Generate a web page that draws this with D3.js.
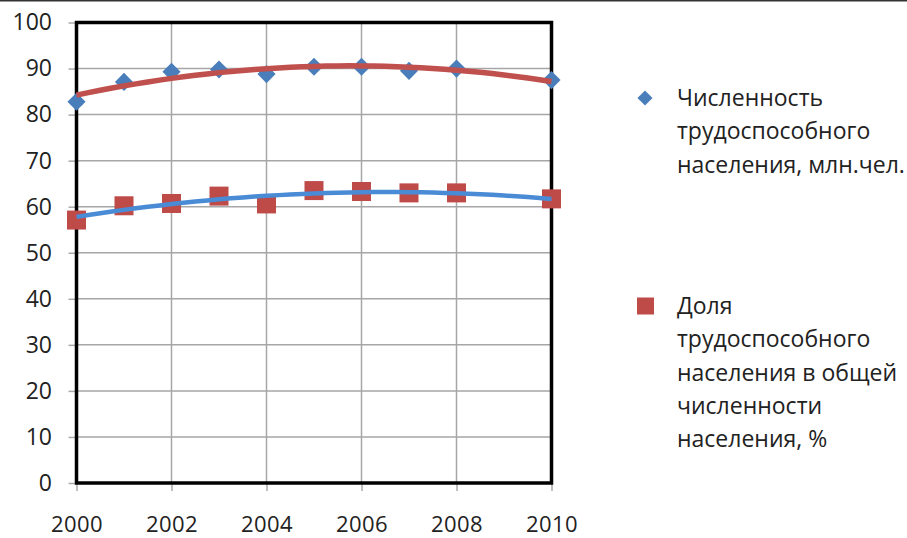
<!DOCTYPE html>
<html>
<head>
<meta charset="utf-8">
<script src="https://cdn.jsdelivr.net/npm/d3@7"></script>
<style>
  html, body { margin: 0; padding: 0; background: #fff; }
  svg { display: block; }
  text { font-family: "Open Sans", "Noto Sans", sans-serif; fill: #222; }
</style>
</head>
<body>
<svg id="chart" width="907" height="538"></svg>
<script>
// Years with observations (no 2009 value)
const years = [2000, 2001, 2002, 2003, 2004, 2005, 2006, 2007, 2008, 2010];
// Working-age population, million people
const workforce = [82.8, 87.1, 89.3, 89.8, 88.8, 90.4, 90.4, 89.5, 90.0, 87.5];
// Share of working-age population in total population, %
const workforceShare = [57.1, 60.2, 60.7, 62.3, 60.6, 63.5, 63.3, 63.0, 63.0, 61.7];

const xTicks = [2000, 2002, 2004, 2006, 2008, 2010];
const yTicks = [0, 10, 20, 30, 40, 50, 60, 70, 80, 90, 100];

const legendLabels = [
  ["Численность", "трудоспособного", "населения, млн.чел."],
  ["Доля", "трудоспособного", "населения в общей", "численности", "населения, %"]
];

const blue = "#4a7ebb";
const red = "#be4b48";
const trendRed = "#c0504d";
const trendBlue = "#4a8bd6";

const svg = d3.select("#chart");

// thin frame line across the top
svg.append("line")
  .attr("x1", 0).attr("x2", 907).attr("y1", 0.75).attr("y2", 0.75)
  .attr("stroke", "#333").attr("stroke-width", 1.5);

const plot = { left: 76.5, right: 551.5, top: 22.5, bottom: 483 };

const x = d3.scaleLinear().domain([2000, 2010]).range([plot.left, plot.right]);
const y = d3.scaleLinear().domain([0, 100]).range([plot.bottom, plot.top]);

// gridlines
const grid = svg.append("g");
grid.selectAll(".gy").data(yTicks.filter(v => v > 0 && v < 100)).join("line")
  .attr("x1", plot.left).attr("x2", plot.right)
  .attr("y1", d => y(d)).attr("y2", d => y(d))
  .attr("stroke", "#a6a6a6").attr("stroke-width", 1.5);
grid.selectAll(".gx").data(xTicks.filter(v => v > 2000 && v < 2010)).join("line")
  .attr("x1", d => x(d)).attr("x2", d => x(d))
  .attr("y1", plot.top).attr("y2", plot.bottom)
  .attr("stroke", "#a6a6a6").attr("stroke-width", 1.5);

// axes
const yAxis = svg.append("g")
  .attr("transform", `translate(${plot.left},0)`)
  .call(d3.axisLeft(y).tickValues(yTicks).tickSize(8).tickPadding(16.5).tickFormat(d3.format("d")));
const xAxis = svg.append("g")
  .attr("transform", `translate(0,${plot.bottom})`)
  .call(d3.axisBottom(x).tickValues(xTicks).tickSize(8).tickPadding(25).tickFormat(d3.format("d")));
[yAxis, xAxis].forEach(a => {
  a.select(".domain").remove();
  a.selectAll(".tick line").attr("stroke", "#aaa").attr("stroke-width", 1.5);
  a.selectAll(".tick text").attr("font-size", 23).attr("fill", "#222")
    .attr("font-family", "'Open Sans', sans-serif");
});
xAxis.selectAll(".tick text").attr("font-size", 22).style("letter-spacing", "0.4px");

// plot border
svg.append("rect")
  .attr("x", plot.left).attr("y", plot.top)
  .attr("width", plot.right - plot.left).attr("height", plot.bottom - plot.top)
  .attr("fill", "none").attr("stroke", "#000").attr("stroke-width", 3.5);

// least-squares polynomial trend
function polyFit(xs, ys, order) {
  const n = order + 1;
  const x0 = 2005;
  const A = Array.from({ length: n }, () => new Array(n + 1).fill(0));
  xs.forEach((xv, k) => {
    const t = xv - x0;
    for (let i = 0; i < n; i++) {
      for (let j = 0; j < n; j++) A[i][j] += Math.pow(t, i + j);
      A[i][n] += ys[k] * Math.pow(t, i);
    }
  });
  for (let i = 0; i < n; i++) {
    let p = i;
    for (let r = i + 1; r < n; r++) if (Math.abs(A[r][i]) > Math.abs(A[p][i])) p = r;
    [A[i], A[p]] = [A[p], A[i]];
    for (let r = 0; r < n; r++) {
      if (r === i) continue;
      const f = A[r][i] / A[i][i];
      for (let c = i; c <= n; c++) A[r][c] -= f * A[i][c];
    }
  }
  const coef = A.map((row, i) => row[n] / row[i]);
  return xv => coef.reduce((s, c, i) => s + c * Math.pow(xv - x0, i), 0);
}

const steps = d3.range(2000, 2010.001, 0.25);
const line = d3.line().x(d => x(d[0])).y(d => y(d[1]));

const fitWork = polyFit(years, workforce, 2);
const fitShare = polyFit(years, workforceShare, 2);

// markers
const diamond = d3.symbol().type(d3.symbolDiamond2).size(210);
svg.append("g").selectAll("path").data(years).join("path")
  .attr("d", diamond)
  .attr("transform", (d, i) => `translate(${x(d)},${y(workforce[i])})`)
  .attr("fill", blue);

svg.append("path")
  .attr("d", line(steps.map(t => [t, fitWork(t)])))
  .attr("fill", "none").attr("stroke", trendRed).attr("stroke-width", 5.5)
  .attr("stroke-linejoin", "round");

svg.append("g").selectAll("rect").data(years).join("rect")
  .attr("x", d => x(d) - 9.5).attr("y", (d, i) => y(workforceShare[i]) - 9.5)
  .attr("width", 19).attr("height", 19)
  .attr("fill", red);

svg.append("path")
  .attr("d", line(steps.map(t => [t, fitShare(t)])))
  .attr("fill", "none").attr("stroke", trendBlue).attr("stroke-width", 4.5)
  .attr("stroke-linejoin", "round");

// legend
const legend = svg.append("g");
const legendItems = [
  { top: 98, lines: legendLabels[0], shape: "diamond" },
  { top: 306, lines: legendLabels[1], shape: "square" }
];
legendItems.forEach(item => {
  if (item.shape === "diamond") {
    legend.append("path")
      .attr("d", d3.symbol().type(d3.symbolDiamond2).size(145)())
      .attr("transform", `translate(645,${item.top})`).attr("fill", blue);
  } else {
    legend.append("rect")
      .attr("x", 637).attr("y", item.top - 8.5).attr("width", 17).attr("height", 17)
      .attr("fill", red);
  }
  const t = legend.append("text").attr("font-size", 23).attr("fill", "#222");
  item.lines.forEach((s, i) => {
    t.append("tspan").attr("x", 677).attr("y", item.top + i * 33.3).attr("dy", "0.35em").text(s);
  });
});
</script>
</body>
</html>
